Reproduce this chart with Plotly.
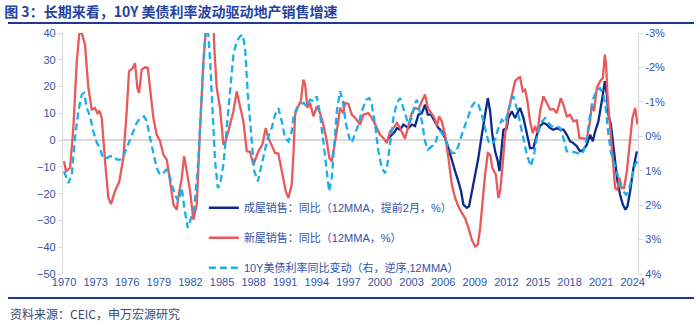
import plotly.graph_objects as go

# 新屋销售：同比（12MMA，%）
new_x = [1970.0, 1970.19, 1970.57, 1970.88, 1971.21, 1971.45, 1971.68, 1971.99, 1972.31, 1972.63,
         1972.94, 1973.16, 1973.35, 1973.58, 1973.89, 1974.21, 1974.46, 1974.84, 1975.25, 1975.63,
         1975.95, 1976.17, 1976.52, 1976.74, 1976.96, 1977.12, 1977.38, 1977.69, 1977.95, 1978.17,
         1978.48, 1978.80, 1979.12, 1979.43, 1979.75, 1980.07, 1980.38, 1980.70, 1980.85, 1981.18,
         1981.40, 1981.65, 1981.97, 1982.28, 1982.60, 1982.92, 1983.23, 1983.55, 1983.87, 1984.18,
         1984.27, 1984.50, 1984.81, 1985.13, 1985.29, 1985.60, 1985.86, 1986.08, 1986.40, 1986.71,
         1987.03, 1987.35, 1987.66, 1987.98, 1988.45, 1988.83, 1989.15, 1989.40, 1989.72, 1990.04,
         1990.35, 1990.67, 1991.05, 1991.30, 1991.46, 1991.62, 1991.78, 1991.94, 1992.16, 1992.48,
         1992.73, 1992.89, 1993.11, 1993.36, 1993.68, 1994.00, 1994.31, 1994.62, 1994.95, 1995.19,
         1995.42, 1995.64, 1995.90, 1996.21, 1996.52, 1996.68, 1997.00, 1997.32, 1997.64, 1998.11,
         1998.42, 1998.90, 1999.22, 1999.63, 2000.01, 2000.32, 2000.65, 2000.96, 2001.27, 2001.60,
         2001.91, 2002.38, 2002.70, 2003.02, 2003.33, 2003.65, 2003.97, 2004.28, 2004.54, 2004.85,
         2005.17, 2005.40, 2005.61, 2005.87, 2006.18, 2006.50, 2006.82, 2007.13, 2007.44, 2007.77,
         2008.08, 2008.40, 2008.72, 2009.03, 2009.29, 2009.51, 2009.72, 2009.98, 2010.24, 2010.46,
         2010.67, 2011.00, 2011.24, 2011.41, 2011.62, 2011.88, 2012.19, 2012.52, 2012.83, 2013.14,
         2013.30, 2013.56, 2013.78, 2014.00, 2014.25, 2014.51, 2014.73, 2014.95, 2015.20, 2015.52,
         2015.84, 2016.15, 2016.47, 2016.79, 2017.17, 2017.42, 2017.74, 2018.05, 2018.37, 2018.69,
         2018.94, 2019.32, 2019.64, 2019.95, 2020.11, 2020.33, 2020.59, 2020.90, 2021.16, 2021.35,
         2021.47, 2021.60, 2021.85, 2022.11, 2022.33, 2022.55, 2022.74, 2022.96, 2023.18, 2023.44,
         2023.68, 2023.97, 2024.23, 2024.45]
new_y = [-7.9, -11.6, -10.4, 4.5, 29.5, 40.0, 40.0, 35.6, 19.5, 11.4,
         12.0, 10.1, 11.0, 8.3, -7.8, -21.6, -23.9, -19.0, -15.4, -6.7,
         10.9, 25.7, 26.9, 28.8, 19.5, 17.6, 26.3, 27.2, 27.0, 18.2,
         8.3, 2.0, -0.4, -5.4, -7.3, -15.4, -24.1, -26.0, -21.6, -14.1,
         -6.0, -11.6, -19.1, -29.7, -24.1, 4.5, 29.4, 45.0, 50.0, 45.0,
         34.4, 19.5, 12.0, -1.7, -1.1, 3.3, 7.0, 10.8, 18.2, 12.0,
         7.0, -4.2, -4.4, -9.2, -4.2, -1.7, 4.5, 0.8, -1.7, -4.8,
         -5.0, -11.6, -19.1, -21.6, -19.1, -16.6, -5.4, 9.5, 12.0, 14.5,
         22.6, 20.7, 12.0, 13.9, 8.9, 12.6, 10.1, 5.8, -0.4, -6.7,
         -7.9, -3.0, 3.3, 12.0, 10.1, 13.9, 13.5, 9.5, 8.3, 5.8,
         9.5, 10.1, 8.3, 5.2, 2.0, 0.8, -1.1, 3.3, 4.5, 6.4,
         4.5, 0.5, 5.8, 10.1, 12.0, 11.5, 14.5, 17.0, 12.0, 10.1,
         8.3, 5.2, 8.9, 7.0, 2.0, -6.7, -16.6, -21.6, -24.7, -27.2,
         -29.1, -32.8, -37.2, -39.7, -39.1, -32.8, -22.8, -12.9, -4.8, -5.4,
         -10.4, -12.9, -21.6, -19.0, -10.4, 2.0, 10.8, 17.0, 22.0, 23.2,
         23.5, 18.2, 18.8, 14.5, 7.0, 2.6, 5.2, 2.6, 10.8, 16.4,
         13.9, 11.4, 11.6, 10.1, 15.7, 13.2, 8.9, 9.5, 7.0, 7.4,
         0.8, 0.5, 0.5, 7.0, 13.2, 10.8, 19.5, 22.0, 23.2, 31.9,
         28.2, 17.0, 4.5, -7.9, -17.9, -18.5, -14.1, -17.9, -17.9, -11.6,
         -1.7, 8.3, 12.0, 5.8]

# 成屋销售：同比（12MMA，提前2月，%）
exist_x = [2000.70, 2001.12, 2001.43, 2001.60, 2001.91, 2002.22, 2002.54, 2002.70, 2003.02, 2003.33,
           2003.65, 2003.97, 2004.28, 2004.54, 2004.85, 2005.17, 2005.55, 2005.87, 2006.18, 2006.50,
           2006.82, 2007.13, 2007.44, 2007.70, 2007.92, 2008.24, 2008.46, 2008.72, 2009.03, 2009.34,
           2009.67, 2009.98, 2010.24, 2010.46, 2010.67, 2010.93, 2011.19, 2011.34, 2011.57, 2011.72,
           2012.04, 2012.19, 2012.52, 2012.83, 2013.14, 2013.30, 2013.62, 2013.94, 2014.25, 2014.57,
           2014.89, 2015.20, 2015.52, 2015.84, 2016.15, 2016.47, 2016.79, 2017.10, 2017.42, 2017.74,
           2018.05, 2018.37, 2018.69, 2019.00, 2019.32, 2019.64, 2019.95, 2020.21, 2020.43, 2020.74,
           2020.97, 2021.16, 2021.35, 2021.54, 2021.69, 2021.92, 2022.11, 2022.33, 2022.55, 2022.80,
           2023.06, 2023.31, 2023.50, 2023.75, 2024.07, 2024.39]
exist_y = [0.1, 2.0, 3.3, 4.5, 3.9, 5.8, 4.8, 4.5, 5.8, 5.2,
           9.5, 10.1, 13.2, 9.5, 9.5, 7.0, 4.5, 3.3, 0.8, -3.0,
           -7.9, -11.6, -15.4, -19.1, -24.1, -25.3, -24.7, -19.1, -12.9, -6.7,
           2.0, 9.5, 15.7, 10.8, 2.0, -4.2, -7.9, -11.6, -3.0, 3.9,
           4.5, 8.3, 10.8, 8.3, 10.8, 12.0, 8.3, 2.0, -3.0, -3.0,
           2.0, 5.2, 6.4, 5.8, 4.5, 3.9, 4.5, 3.9, 3.9, 2.0,
           -0.4, -1.1, -2.3, -4.2, -3.6, -1.7, 2.0, -0.4, 3.3, 7.0,
           12.0, 17.0, 22.0, 17.0, 9.5, 5.8, -0.4, -7.9, -15.4, -20.4,
           -24.1, -26.0, -24.7, -19.1, -10.4, -4.2]

# 10Y美债利率同比变动（右，逆序，12MMA），单位：%
bond_x = [1970.0, 1970.41, 1970.73, 1971.04, 1971.36, 1971.68, 1971.90, 1972.16, 1972.47, 1972.78,
          1973.11, 1973.42, 1973.68, 1974.06, 1974.37, 1974.75, 1975.00, 1975.32, 1975.63, 1975.95,
          1976.27, 1976.58, 1976.90, 1977.22, 1977.60, 1977.85, 1978.17, 1978.48, 1978.80, 1979.12,
          1979.43, 1979.69, 1979.91, 1980.23, 1980.54, 1980.85, 1981.18, 1981.42, 1981.75, 1982.06,
          1982.37, 1982.70, 1982.92, 1983.13, 1983.32, 1983.49, 1983.70, 1983.87, 1984.08, 1984.34,
          1984.60, 1984.81, 1985.13, 1985.45, 1985.76, 1986.08, 1986.40, 1986.71, 1986.97, 1987.19,
          1987.45, 1987.76, 1988.07, 1988.40, 1988.71, 1989.02, 1989.34, 1989.72, 1990.04, 1990.35,
          1990.67, 1990.99, 1991.30, 1991.62, 1991.78, 1992.09, 1992.41, 1992.73, 1993.05, 1993.36,
          1993.68, 1994.00, 1994.31, 1994.62, 1994.95, 1995.17, 1995.42, 1995.67, 1995.90, 1996.21,
          1996.47, 1996.78, 1997.09, 1997.32, 1997.64, 1997.95, 1998.27, 1998.68, 1998.99, 1999.22,
          1999.53, 1999.85, 2000.17, 2000.48, 2000.70, 2000.96, 2001.27, 2001.60, 2001.91, 2002.22,
          2002.54, 2002.70, 2003.02, 2003.27, 2003.50, 2003.71, 2004.03, 2004.28, 2004.54, 2004.92,
          2005.23, 2005.49, 2005.80, 2006.11, 2006.44, 2006.82, 2007.13, 2007.44, 2007.77, 2008.08,
          2008.40, 2008.72, 2009.03, 2009.34, 2009.67, 2009.98, 2010.29, 2010.62, 2010.93, 2011.24,
          2011.57, 2011.88, 2012.19, 2012.52, 2012.67, 2012.99, 2013.30, 2013.62, 2013.94, 2014.32,
          2014.63, 2014.95, 2015.27, 2015.68, 2015.99, 2016.31, 2016.79, 2017.10, 2017.42, 2017.74,
          2018.21, 2018.69, 2019.00, 2019.32, 2019.64, 2019.95, 2020.27, 2020.59, 2020.90, 2021.22,
          2021.47, 2021.69, 2021.92, 2022.17, 2022.49, 2022.80, 2023.12, 2023.37, 2023.59, 2023.91,
          2024.23, 2024.45]
bond_y = [1.02, 1.36, 1.12, 0.05, -0.73, -1.21, -1.26, -0.82, -0.58, -0.14,
          0.19, 0.34, 0.63, 0.63, 0.58, 0.58, 0.68, 0.68, 0.58, 0.34,
          0.15, -0.14, -0.39, -0.53, -0.58, -0.44, 0.05, 0.53, 0.92, 1.12,
          1.07, 0.97, 1.02, 1.41, 1.70, 1.89, 1.50, 2.08, 2.66, 2.37,
          2.08, 0.92, -0.44, -1.69, -2.56, -3.30, -2.95, -2.18, -0.73, 0.73,
          1.50, 1.41, 0.82, -0.24, -1.40, -2.37, -2.76, -2.90, -2.95, -2.56,
          -1.21, 0.05, 1.02, 1.31, 0.92, 0.53, 0.05, -0.24, -0.63, -0.82,
          -0.44, 0.05, 0.15, -0.14, -0.53, -0.82, -0.92, -0.97, -0.87, -1.06,
          -1.02, -1.16, -0.63, 0.15, 1.12, 1.60, 1.21, 0.24, -0.73, -1.31,
          -1.02, -0.34, 0.05, 0.19, -0.05, -0.34, -0.73, -1.06, -1.11, -0.92,
          -0.34, 0.44, 0.92, 1.07, 0.82, 0.24, -0.53, -0.97, -1.11, -0.82,
          -0.45, -0.34, -0.53, -0.92, -1.06, -0.82, -0.34, 0.15, 0.39, 0.29,
          0.24, -0.05, -0.14, 0.05, 0.29, 0.48, 0.48, 0.29, -0.05, -0.34,
          -0.63, -0.87, -1.00, -0.92, -0.63, -0.24, 0.15, 0.24, 0.10, -0.24,
          -0.48, -0.39, -0.73, -1.11, -1.16, -0.82, -0.40, 0.05, 0.53, 0.87,
          0.53, -0.05, -0.39, -0.53, -0.39, -0.29, -0.29, -0.24, 0.05, 0.44,
          0.44, 0.48, 0.53, 0.44, 0.05, -0.63, -1.11, -1.35, -1.40, -1.21,
          -0.73, -0.05, 0.44, 0.73, 1.02, 1.41, 1.60, 1.70, 1.60, 1.21,
          0.82, 0.73]

x_ticks = list(range(1970, 2025, 3))
y_left_ticks = list(range(-50, 41, 10))
y_right_ticks = [-3, -2, -1, 0, 1, 2, 3, 4]
y_right_text = ["-3%", "-2%", "-1%", "0%", "1%", "2%", "3%", "4%"]

TICK_COLOR = "#3153AC"
NAVY = "#1F3A8F"
LATIN = "Liberation Sans, Arial, Noto Sans CJK SC"

fig = go.Figure()
fig.add_trace(go.Scatter(
    x=exist_x, y=exist_y, mode="lines", name="成屋销售：同比（12MMA，提前2月，%）",
    line=dict(color="#0B2A8C", width=2.3), legendgroup="a"))
fig.add_trace(go.Scatter(
    x=new_x, y=new_y, mode="lines", name="新屋销售：同比（12MMA，%）",
    line=dict(color="#E8595B", width=2.3), legendgroup="b"))
fig.add_trace(go.Scatter(
    x=bond_x, y=bond_y, mode="lines", name="10Y美债利率同比变动（右，逆序,12MMA）",
    line=dict(color="#18B0EC", width=2.3, dash="7px,4px"), yaxis="y2", legendgroup="c"))

fig.update_layout(
    width=699, height=322, autosize=False,
    margin=dict(l=63, r=61, t=33, b=48),
    paper_bgcolor="white", plot_bgcolor="white",
    font=dict(family=LATIN, size=11, color=TICK_COLOR),
    title=dict(text="<b>图 3：长期来看，10Y 美债利率波动驱动地产销售增速</b>",
               x=0.006, xref="container", xanchor="left",
               y=1 - 12 / 322, yref="container", yanchor="middle",
               font=dict(family="Noto Sans CJK SC", size=14, color="#2443A0")),
    xaxis=dict(range=[1969.9, 2024.5], tickvals=x_ticks, ticktext=[str(v) for v in x_ticks],
               showgrid=False, showline=False, zeroline=False, ticks="",
               tickfont=dict(family=LATIN, size=11, color=TICK_COLOR)),
    yaxis=dict(range=[-50, 40], tickvals=y_left_ticks, showgrid=False,
               showline=True, linecolor="#D9D9D9", linewidth=1.3,
               ticks="outside", ticklen=4, tickcolor="#D9D9D9",
               zeroline=True, zerolinecolor="#D9D9D9", zerolinewidth=1.5,
               tickfont=dict(family=LATIN, size=11, color=TICK_COLOR)),
    yaxis2=dict(range=[4, -3], overlaying="y", side="right", tickvals=y_right_ticks,
                ticktext=y_right_text, showgrid=False, zeroline=False,
                showline=True, linecolor="#D9D9D9", linewidth=1.3,
                ticks="outside", ticklen=4, tickcolor="#D9D9D9",
                tickfont=dict(family=LATIN, size=11, color=TICK_COLOR)),
    legend=dict(x=0.245, y=0.335, xanchor="left", yanchor="top",
                bgcolor="rgba(0,0,0,0)", borderwidth=0, tracegroupgap=11,
                font=dict(family=LATIN, size=11, color=TICK_COLOR)),
    showlegend=True,
)

# rules under title and above source line
fig.add_shape(type="line", xref="paper", yref="paper",
              x0=-55 / 575, x1=1 + 56 / 575, y0=(274 - 23) / 241, y1=(274 - 23) / 241,
              line=dict(color=NAVY, width=2))
fig.add_shape(type="line", xref="paper", yref="paper",
              x0=-55 / 575, x1=1 + 56 / 575, y0=(274 - 298) / 241, y1=(274 - 298) / 241,
              line=dict(color=NAVY, width=2))

fig.add_annotation(text="资料来源：CEIC，申万宏源研究", xref="paper", yref="paper",
                   x=-55 / 575, y=(274 - 313) / 241, xanchor="left", yanchor="middle",
                   showarrow=False,
                   font=dict(family="Noto Sans CJK SC", size=12, color="#3C4A6E"))

fig.write_html("out.html")
